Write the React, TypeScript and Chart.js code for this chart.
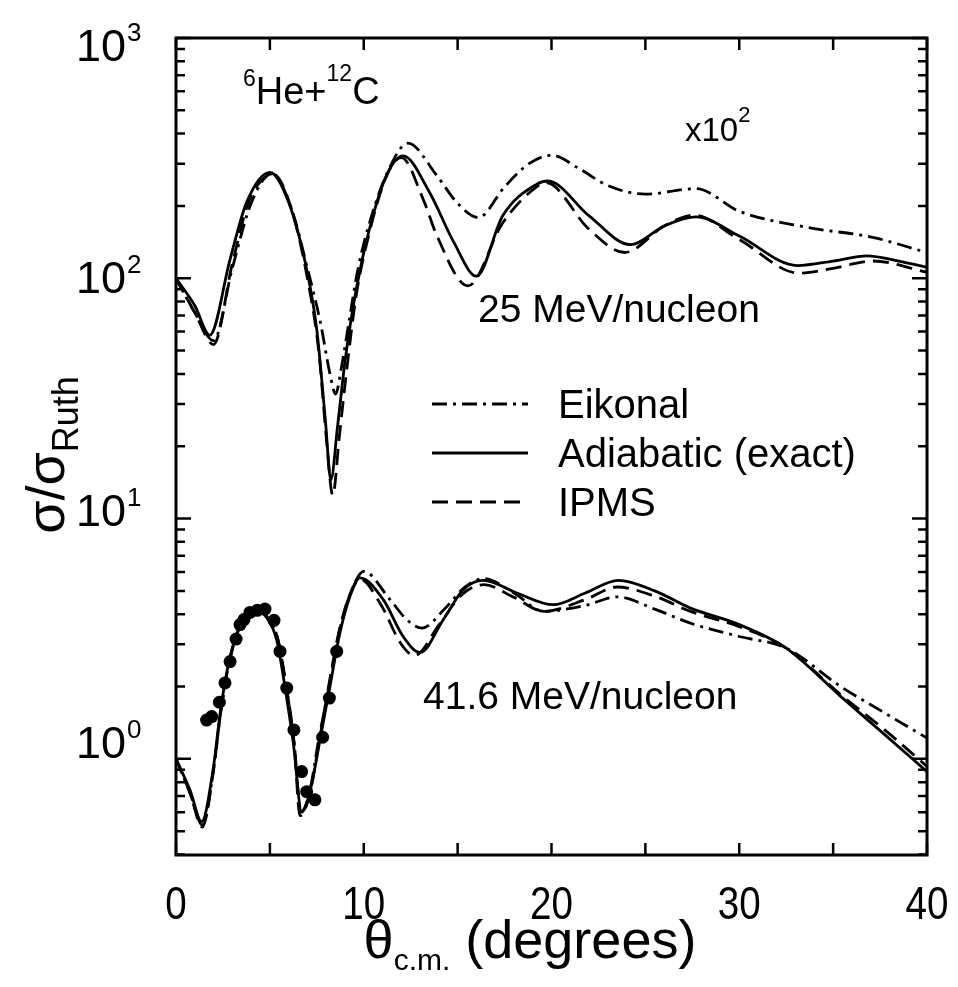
import React, { useEffect, useRef } from "react";
import { Chart, registerables } from "chart.js";

Chart.register(...registerables);

// ---------- data ----------
// 25 MeV/nucleon curves (shown multiplied by 10^2)
const adiabatic25Theta = [0, 1.0, 1.8, 2.88, 3.76, 5.0, 6.0, 6.96, 7.5, 7.95, 8.25, 8.6, 9.0, 9.6, 10.3, 11.2, 12.1, 13.5, 14.8, 16.0, 17.4, 19.2, 19.8, 22.0, 24.2, 26.0, 27.7, 30.0, 33.1, 35.0, 36.8, 38.5, 40];
const adiabatic25 = [100, 77, 58, 120, 207, 276, 207, 109, 61, 26, 14.5, 24, 45, 90, 160, 267, 323, 228, 141, 102, 182, 246, 254, 182, 138, 165, 180, 150, 113, 118, 124, 118, 111];

const ipms25Theta = [0, 1.0, 2.0, 3.0, 3.9, 5.2, 6.1, 7.0, 7.6, 8.0, 8.35, 8.7, 9.1, 9.6, 10.3, 11.2, 12.0, 13.2, 13.9, 15.55, 17.4, 19.2, 19.7, 22.0, 23.9, 26.0, 27.6, 30.0, 33.2, 35.0, 37.1, 40];
const ipms25 = [100, 72, 53, 115, 210, 270, 200, 100, 50, 22, 12.5, 22, 42, 85, 155, 265, 318, 210, 150, 93, 170, 240, 250, 160, 128, 165, 183, 145, 105, 110, 118, 106];

const eikonal25Theta = [0, 1.0, 2.0, 3.0, 4.0, 5.1, 6.1, 7.0, 7.7, 8.2, 8.5, 8.8, 9.2, 9.7, 10.4, 11.3, 12.35, 13.9, 15.0, 16.1, 17.5, 18.8, 20.0, 21.5, 23.0, 25.0, 27.7, 30.0, 33.6, 37.1, 40];
const eikonal25 = [100, 72, 55, 110, 205, 272, 200, 110, 65, 40, 33, 42, 65, 110, 180, 280, 365, 267, 205, 179, 240, 300, 325, 285, 243, 224, 236, 190, 163, 148, 128];

// 41.6 MeV/nucleon curves
const adiabatic416Theta = [0, 0.75, 1.37, 2.0, 2.35, 2.8, 3.25, 3.75, 4.37, 4.9, 5.36, 5.8, 6.25, 6.7, 7.2, 7.67, 8.2, 8.73, 9.27, 9.8, 11.04, 12.1, 13.0, 14.24, 15.3, 16.37, 18.15, 20.1, 21.8, 23.56, 25.5, 27.4, 30.0, 32.5, 35.4, 37.7, 40];
const adiabatic416 = [1.0, 0.74, 0.548, 0.93, 1.55, 2.5, 3.34, 3.98, 4.11, 3.8, 3.13, 2.0, 1.16, 0.6, 0.77, 1.2, 2.0, 3.34, 4.75, 5.66, 4.6, 3.23, 2.77, 3.8, 5.06, 5.53, 4.9, 4.38, 4.9, 5.53, 5.0, 4.24, 3.62, 2.89, 1.82, 1.27, 0.885];

const ipms416Theta = [0, 0.75, 1.4, 2.0, 2.35, 2.8, 3.25, 3.75, 4.4, 4.9, 5.4, 5.85, 6.3, 6.6, 7.1, 7.6, 8.1, 8.65, 9.2, 9.8, 10.9, 12.0, 12.7, 14.0, 15.2, 16.4, 18.0, 19.6, 21.8, 23.5, 25.5, 27.4, 30.0, 32.5, 35.4, 37.7, 40];
const ipms416 = [1.0, 0.72, 0.52, 0.9, 1.5, 2.45, 3.3, 3.95, 4.1, 3.85, 3.2, 2.05, 1.15, 0.58, 0.7, 1.15, 1.95, 3.3, 4.7, 5.6, 4.4, 3.0, 2.69, 3.6, 4.8, 5.31, 4.7, 4.11, 4.6, 5.19, 4.75, 4.11, 3.55, 2.89, 1.85, 1.33, 0.93];

const eikonal416Theta = [0, 0.75, 1.4, 2.0, 2.35, 2.8, 3.25, 3.75, 4.4, 4.9, 5.4, 5.85, 6.3, 6.65, 7.1, 7.6, 8.15, 8.7, 9.3, 10.0, 11.4, 12.3, 13.1, 14.3, 15.4, 16.4, 18.0, 19.6, 21.8, 23.5, 25.5, 27.4, 30.0, 32.5, 35.4, 37.7, 40];
const eikonal416 = [1.0, 0.72, 0.53, 0.9, 1.5, 2.45, 3.3, 3.95, 4.15, 3.85, 3.2, 2.05, 1.15, 0.6, 0.72, 1.2, 2.0, 3.4, 4.9, 6.03, 4.6, 3.79, 3.5, 4.2, 5.2, 5.63, 4.9, 4.11, 4.35, 4.72, 4.2, 3.67, 3.23, 2.89, 2.0, 1.56, 1.22];

// measured data, 41.6 MeV/nucleon
const dataTheta = [1.63, 1.9, 2.31, 2.61, 2.88, 3.2, 3.41, 3.62, 3.94, 4.33, 4.74, 5.22, 5.54, 5.9, 6.28, 6.69, 6.96, 7.4, 7.81, 8.17, 8.56];
const dataSigma = [1.45, 1.5, 1.72, 2.07, 2.54, 3.15, 3.62, 3.8, 4.07, 4.15, 4.2, 3.77, 2.8, 1.97, 1.32, 0.885, 0.73, 0.675, 1.23, 1.79, 2.8];

// axes
const xMin = 0;
const xMax = 40;
const xTickStep = 5;
const xLabelValues = [0, 10, 20, 30, 40];
const yMin = 0.398;
const yMax = 1000;
const yDecadeExponents = [0, 1, 2, 3];

const FONT = '"Liberation Sans", Arial, Helvetica, sans-serif';

const zip = (xs: number[], ys: number[]) => xs.map((x, i) => ({ x, y: ys[i] }));

const DASH_DOT = [15, 6, 3, 6];
const DASHED = [16, 8];

type Part = { t: string; size: number; dy?: number };

function drawRich(
  ctx: CanvasRenderingContext2D,
  parts: Part[],
  x: number,
  y: number,
  align: "left" | "center" | "right" = "left",
  sx = 1
) {
  let total = 0;
  const widths = parts.map((p) => {
    ctx.font = `${p.size}px ${FONT}`;
    const w = ctx.measureText(p.t).width;
    total += w;
    return w;
  });
  const tw = total * sx;
  const startX = align === "left" ? x : align === "center" ? x - tw / 2 : x - tw;
  ctx.save();
  ctx.translate(startX, y);
  ctx.scale(sx, 1);
  ctx.textAlign = "left";
  ctx.textBaseline = "alphabetic";
  let cx = 0;
  parts.forEach((p, i) => {
    ctx.font = `${p.size}px ${FONT}`;
    ctx.fillText(p.t, cx, p.dy || 0);
    cx += widths[i];
  });
  ctx.restore();
}

const decorPlugin = {
  id: "decor",
  afterDraw(chart: any) {
    const { ctx, chartArea } = chart;
    const { left, right, top, bottom } = chartArea;
    const xs = chart.scales.x;
    const ys = chart.scales.y;
    ctx.save();
    ctx.fillStyle = "#000";
    ctx.strokeStyle = "#000";
    ctx.setLineDash([]);

    // frame
    ctx.lineWidth = 3;
    ctx.strokeRect(left, top, right - left, bottom - top);

    // x ticks (inward, top & bottom)
    ctx.lineWidth = 2.5;
    for (let v = xMin; v <= xMax + 1e-9; v += xTickStep) {
      const px = xs.getPixelForValue(v);
      ctx.beginPath();
      ctx.moveTo(px, bottom);
      ctx.lineTo(px, bottom - 12);
      ctx.moveTo(px, top);
      ctx.lineTo(px, top + 12);
      ctx.stroke();
    }
    // y ticks (inward, left & right)
    for (let e = -1; e <= 3; e++) {
      for (let m = 1; m <= 9; m++) {
        const v = m * Math.pow(10, e);
        if (v < yMin - 1e-9 || v > yMax + 1e-9) continue;
        const py = ys.getPixelForValue(v);
        const len = m === 1 ? 15 : 9;
        ctx.beginPath();
        ctx.moveTo(left, py);
        ctx.lineTo(left + len, py);
        ctx.moveTo(right, py);
        ctx.lineTo(right - len, py);
        ctx.stroke();
      }
    }

    // x tick labels (tall, narrow glyphs as in the reference)
    xLabelValues.forEach((v) => {
      drawRich(ctx, [{ t: String(v), size: 47 }], xs.getPixelForValue(v), 919, "center", 0.82);
    });

    // y tick labels 10^n
    yDecadeExponents.forEach((e) => {
      const py = ys.getPixelForValue(Math.pow(10, e));
      const cy = 45 + (py - top) * 0.967;
      drawRich(ctx, [{ t: "10", size: 45 }], 126, cy + 16, "right");
      drawRich(ctx, [{ t: String(e), size: 26 }], 127, cy - 4, "left");
    });

    // x axis title
    drawRich(
      ctx,
      [
        { t: "θ", size: 54 },
        { t: "c.m.", size: 30, dy: 12 },
        { t: " (degrees)", size: 54 },
      ],
      530,
      958,
      "center"
    );

    // y axis title (rotated)
    ctx.save();
    ctx.translate(64, 455);
    ctx.rotate(-Math.PI / 2);
    drawRich(
      ctx,
      [
        { t: "σ/σ", size: 54 },
        { t: "Ruth", size: 36, dy: 14 },
      ],
      0,
      0,
      "center"
    );
    ctx.restore();

    // annotations
    drawRich(
      ctx,
      [
        { t: "6", size: 23, dy: -18 },
        { t: "He+", size: 38 },
        { t: "12", size: 23, dy: -23 },
        { t: "C", size: 38 },
      ],
      243,
      104
    );
    drawRich(
      ctx,
      [
        { t: "x10", size: 33 },
        { t: "2", size: 22, dy: -19 },
      ],
      685,
      141
    );
    drawRich(ctx, [{ t: "25 MeV/nucleon", size: 39 }], 478, 322);
    drawRich(ctx, [{ t: "41.6 MeV/nucleon", size: 39 }], 423, 709);

    // legend
    const legend = [
      { label: "Eikonal", dash: DASH_DOT, y: 404 },
      { label: "Adiabatic (exact)", dash: [] as number[], y: 453 },
      { label: "IPMS", dash: DASHED, y: 502 },
    ];
    legend.forEach((it) => {
      ctx.lineWidth = 2.8;
      ctx.setLineDash(it.dash);
      ctx.beginPath();
      ctx.moveTo(432, it.y);
      ctx.lineTo(528, it.y);
      ctx.stroke();
      ctx.setLineDash([]);
      drawRich(ctx, [{ t: it.label, size: 40 }], 558, it.y + 14, "left");
    });

    ctx.restore();
  },
};

export default function App() {
  const canvasRef = useRef<HTMLCanvasElement | null>(null);

  useEffect(() => {
    const canvas = canvasRef.current;
    if (!canvas) return;
    const lineDs = (label: string, xs: number[], ys: number[], dash: number[]) => ({
      type: "line" as const,
      label,
      data: zip(xs, ys),
      borderColor: "#000",
      backgroundColor: "#000",
      borderWidth: 2.8,
      borderDash: dash,
      pointRadius: 0,
      cubicInterpolationMode: "monotone" as const,
      fill: false,
    });
    const chart = new Chart(canvas, {
      type: "line",
      data: {
        datasets: [
          lineDs("Eikonal 25", eikonal25Theta, eikonal25, DASH_DOT),
          lineDs("Adiabatic 25", adiabatic25Theta, adiabatic25, []),
          lineDs("IPMS 25", ipms25Theta, ipms25, DASHED),
          lineDs("Eikonal 41.6", eikonal416Theta, eikonal416, DASH_DOT),
          lineDs("Adiabatic 41.6", adiabatic416Theta, adiabatic416, []),
          lineDs("IPMS 41.6", ipms416Theta, ipms416, DASHED),
          {
            type: "scatter" as any,
            label: "data",
            data: zip(dataTheta, dataSigma),
            showLine: false,
            pointRadius: 6.5,
            pointBackgroundColor: "#000",
            pointBorderColor: "#000",
            pointBorderWidth: 0,
          } as any,
        ],
      },
      options: {
        animation: false,
        responsive: false,
        maintainAspectRatio: false,
        devicePixelRatio: 1,
        layout: { padding: { left: 176, top: 38, right: 31, bottom: 132 } },
        plugins: {
          legend: { display: false },
          tooltip: { enabled: false },
        },
        scales: {
          x: { type: "linear", min: xMin, max: xMax, display: false },
          y: { type: "logarithmic", min: yMin, max: yMax, display: false },
        },
      },
      plugins: [decorPlugin],
    });
    return () => chart.destroy();
  }, []);

  return (
    <div style={{ position: "fixed", left: 0, top: 0, width: 958, height: 987, background: "#fff" }}>
      <canvas ref={canvasRef} width={958} height={987} style={{ width: 958, height: 987 }} />
    </div>
  );
}
